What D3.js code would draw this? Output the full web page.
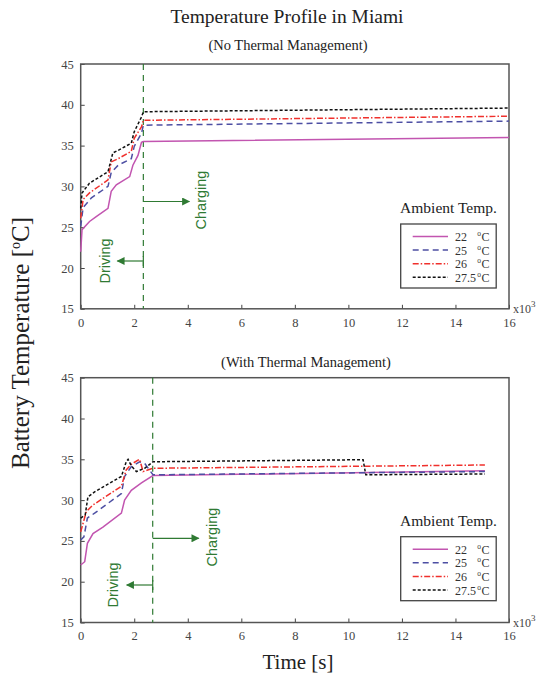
<!DOCTYPE html>
<html>
<head>
<meta charset="utf-8">
<script src="https://cdn.jsdelivr.net/npm/d3@7"></script>
<style>
  body { margin: 0; background: #fff; }
  svg text { font-family: "Liberation Serif", "Times New Roman", serif; }
  svg text.ann { font-family: "Liberation Sans", Arial, sans-serif; }
</style>
</head>
<body>
<div id="chart"></div>
<script>
// ---- data (time in s x10^3, temperature in degC) ----
var seriesNames = ["22", "25", "26", "27.5"];
var xTicks = [0, 2, 4, 6, 8, 10, 12, 14, 16];
var yTicks = [15, 20, 25, 30, 35, 40, 45];

// no thermal management
var noTM22 = [[0,22.0],[0.05,24.7],[0.33,25.7],[0.58,26.3],[1.02,27.3],[1.14,29.4],[1.33,30.2],[1.83,31.2],[1.95,32.6],[2.14,33.8],[2.27,35.4],[2.34,35.5],[16,36.0]];
var noTM25 = [[0,25.1],[0.09,27.4],[0.4,28.6],[1.02,30.0],[1.14,31.7],[1.4,32.6],[1.89,33.4],[2.0,34.9],[2.27,36.5],[2.34,37.5],[16,38.0]];
var noTM26 = [[0,26.1],[0.09,28.4],[0.33,29.2],[1.02,30.8],[1.14,33.0],[1.4,33.4],[1.89,34.3],[2.0,35.9],[2.27,37.3],[2.34,38.1],[16,38.6]];
var noTM275 = [[0,27.3],[0.05,29.2],[0.33,30.4],[1.02,31.8],[1.2,34.1],[1.45,34.5],[1.89,35.3],[2.0,36.7],[2.27,38.5],[2.34,39.15],[16,39.6]];
var noTMSwitch = 2.34;

// with thermal management
var tm22 = [[0,22.05],[0.15,22.45],[0.25,24.7],[0.46,25.9],[0.83,26.7],[1.52,28.4],[1.64,30.0],[1.89,31.2],[2.27,32.1],[2.7,33.0],[15.1,33.6]];
var tm25 = [[0,25.1],[0.12,25.5],[0.25,27.8],[0.52,28.4],[1.52,30.8],[1.64,32.9],[1.89,34.1],[2.2,34.7],[2.39,34.5],[2.7,33.1],[15.1,33.5]];
var tm26 = [[0,26.1],[0.21,28.6],[0.46,29.4],[1.52,31.7],[1.7,33.7],[1.89,34.4],[2.2,35.0],[2.33,33.5],[2.7,33.9],[15.1,34.3]];
var tm275 = [[0,27.8],[0.17,28.2],[0.27,30.4],[0.52,31.0],[1.52,32.9],[1.7,34.7],[1.77,35.0],[1.89,34.2],[2.08,33.5],[2.39,33.9],[2.7,34.7],[10.55,34.95],[10.65,33.1],[15.1,33.2]];
var tmSwitch = 2.69;

var styles = [
  { color: "#c255b0", dash: null },
  { color: "#4d4fa3", dash: "6,4" },
  { color: "#f0302c", dash: "6,2,1.5,2" },
  { color: "#111111", dash: "3,2" }
];
var green = "#2f7a33";

var W = 543, H = 676;
var svg = d3.select("#chart").append("svg")
  .attr("width", W).attr("height", H);

svg.append("defs").append("marker")
  .attr("id", "arr")
  .attr("viewBox", "0 0 10 10")
  .attr("refX", 9).attr("refY", 5)
  .attr("markerWidth", 10).attr("markerHeight", 8)
  .attr("markerUnits", "userSpaceOnUse")
  .attr("orient", "auto")
  .append("path").attr("d", "M0,0 L10,5 L0,10 z").attr("fill", green);

svg.append("text")
  .attr("x", 287).attr("y", 23)
  .attr("text-anchor", "middle")
  .attr("font-size", 19.5).attr("fill", "#222")
  .text("Temperature Profile in Miami");

function panel(cfg) {
  var x = d3.scaleLinear().domain([0, 16]).range([80.7, 509]);
  var y = d3.scaleLinear().domain([15, 45]).range([cfg.bottom, cfg.top]);
  var g = svg.append("g");

  g.append("text")
    .attr("x", cfg.subX).attr("y", cfg.subY)
    .attr("text-anchor", "middle")
    .attr("font-size", 14.5).attr("fill", "#222")
    .text(cfg.subtitle);

  // axes, ticks inward
  var yAx = g.append("g").attr("transform", "translate(" + x(0) + ",0)")
    .call(d3.axisLeft(y).tickValues(yTicks).tickSize(-4).tickPadding(7));
  var xAx = g.append("g").attr("transform", "translate(0," + y(15) + ")")
    .call(d3.axisBottom(x).tickValues(xTicks).tickSize(-4).tickPadding(9));
  [xAx, yAx].forEach(function(a) {
    a.select(".domain").remove();
    a.selectAll("line").attr("stroke", "#444");
    a.selectAll("text").attr("font-size", 12.5).attr("fill", "#444");
  });

  g.append("rect")
    .attr("x", x(0)).attr("y", y(45))
    .attr("width", x(16) - x(0)).attr("height", y(15) - y(45))
    .attr("fill", "none").attr("stroke", "#555").attr("stroke-width", 1.5);

  var xl = g.append("text").attr("x", 513).attr("y", y(15) + 4)
    .attr("font-size", 12).attr("fill", "#444").text("x10");
  xl.append("tspan").attr("dy", -6).attr("font-size", 9).text("3");

  // switch line
  g.append("line")
    .attr("x1", x(cfg.switchT)).attr("x2", x(cfg.switchT))
    .attr("y1", y(45)).attr("y2", y(15))
    .attr("stroke", green).attr("stroke-width", 1.2)
    .attr("stroke-dasharray", "6,5");

  var line = d3.line().x(function(d) { return x(d[0]); }).y(function(d) { return y(d[1]); });
  cfg.series.forEach(function(s, i) {
    g.append("path").datum(s)
      .attr("d", line)
      .attr("fill", "none")
      .attr("stroke", styles[i].color)
      .attr("stroke-width", 1.5)
      .attr("stroke-dasharray", styles[i].dash);
  });

  // annotations
  var xs = x(cfg.switchT);
  g.append("line").attr("x1", xs).attr("x2", xs + cfg.chArrow)
    .attr("y1", cfg.chY).attr("y2", cfg.chY)
    .attr("stroke", green).attr("stroke-width", 1.2).attr("marker-end", "url(#arr)");
  g.append("line").attr("x1", xs).attr("x2", xs - cfg.drArrow)
    .attr("y1", cfg.drY).attr("y2", cfg.drY)
    .attr("stroke", green).attr("stroke-width", 1.2).attr("marker-end", "url(#arr)");
  g.append("line").attr("x1", xs).attr("x2", xs)
    .attr("y1", cfg.drY - 5).attr("y2", cfg.drY + 5)
    .attr("stroke", green).attr("stroke-width", 1.2);
  g.append("text").attr("class", "ann")
    .attr("transform", "translate(" + (xs + cfg.chDx) + "," + cfg.chTextY + ") rotate(-90)")
    .attr("text-anchor", "middle")
    .attr("font-size", 14.5).attr("fill", green)
    .text("Charging");
  g.append("text").attr("class", "ann")
    .attr("transform", "translate(" + (xs - cfg.drDx) + "," + cfg.drTextY + ") rotate(-90)")
    .attr("text-anchor", "middle")
    .attr("font-size", 14.5).attr("fill", green)
    .text("Driving");

  // legend
  var lx = 400.7, ly = cfg.legTop;
  g.append("text").attr("x", 448.5).attr("y", ly - 11)
    .attr("text-anchor", "middle").attr("font-size", 15.5).attr("fill", "#222")
    .text("Ambient Temp.");
  g.append("rect").attr("x", lx).attr("y", ly)
    .attr("width", 95.5).attr("height", 64)
    .attr("fill", "#fff").attr("stroke", "#444").attr("stroke-width", 1.3);
  seriesNames.forEach(function(n, i) {
    var yy = ly + 12.5 + i * 13.6;
    g.append("line").attr("x1", 412.7).attr("x2", 448).attr("y1", yy).attr("y2", yy)
      .attr("stroke", styles[i].color).attr("stroke-width", 1.5)
      .attr("stroke-dasharray", styles[i].dash);
    g.append("text").attr("x", 455).attr("y", yy + 4.5)
      .attr("font-size", 12).attr("fill", "#333").text(n);
    g.append("text").attr("x", 477.3).attr("y", yy - 0.5)
      .attr("font-size", 7.5).attr("fill", "#333").text("o");
    g.append("text").attr("x", 481.5).attr("y", yy + 4.5)
      .attr("font-size", 12).attr("fill", "#333").text("C");
  });
}

panel({
  top: 64, bottom: 308.8, subtitle: "(No Thermal Management)", subX: 288, subY: 50,
  switchT: noTMSwitch, series: [noTM22, noTM25, noTM26, noTM275],
  chY: 201.5, chArrow: 46, chDx: 63, chTextY: 200,
  drY: 261, drArrow: 26, drDx: 33, drTextY: 261,
  legTop: 224
});

panel({
  top: 377.7, bottom: 622.5, subtitle: "(With Thermal Management)", subX: 306, subY: 367,
  switchT: tmSwitch, series: [tm22, tm25, tm26, tm275],
  chY: 538.3, chArrow: 46, chDx: 64, chTextY: 537,
  drY: 585, drArrow: 26, drDx: 34.5, drTextY: 585,
  legTop: 536.7
});

// axis titles
var yl = svg.append("text")
  .attr("transform", "translate(29,343) rotate(-90)")
  .attr("text-anchor", "middle")
  .attr("font-size", 25).attr("fill", "#222")
  .text("Battery Temperature [");
yl.append("tspan").attr("dy", -9).attr("font-size", 14).text("o");
yl.append("tspan").attr("dy", 9).text("C]");

svg.append("text")
  .attr("x", 298).attr("y", 669)
  .attr("text-anchor", "middle")
  .attr("font-size", 21).attr("fill", "#222")
  .text("Time [s]");
</script>
</body>
</html>
